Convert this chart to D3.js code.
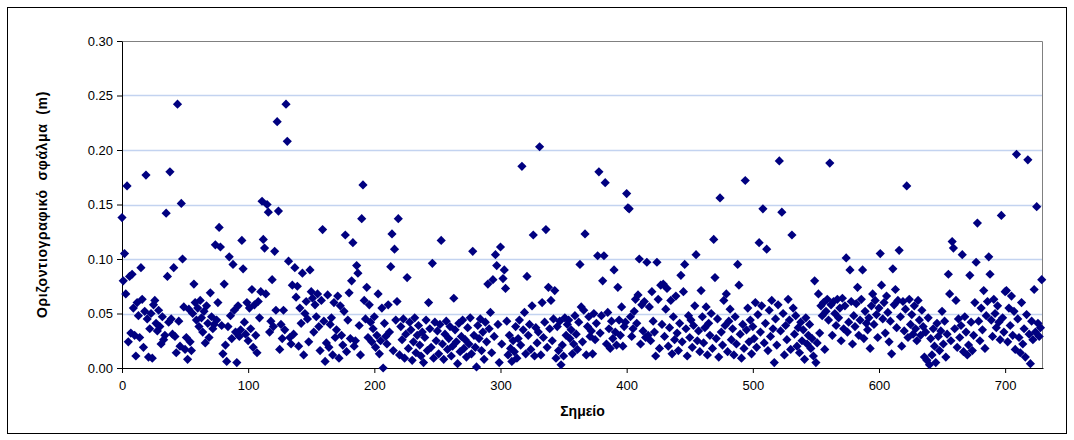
<!DOCTYPE html>
<html>
<head>
<meta charset="utf-8">
<script src="https://cdnjs.cloudflare.com/ajax/libs/d3/7.8.5/d3.min.js"></script>
<style>
  body { margin: 0; background: #fff; }
  text { font-family: Arial, "Liberation Sans", sans-serif; }
</style>
</head>
<body>
<div id="viz"></div>
<script>
// horizontal error (m) per point, index = point number
const errors = [
  0.138, 0.080, 0.105, 0.068, 0.167, 0.024, 0.084, 0.032, 0.086, 0.055,
  0.030, 0.011, 0.060, 0.048, 0.028, 0.092, 0.063, 0.019, 0.052, 0.177,
  0.045, 0.010, 0.036, 0.050, 0.009, 0.058, 0.062, 0.041, 0.034, 0.053,
  0.038, 0.022, 0.047, 0.026, 0.030, 0.142, 0.084, 0.042, 0.180, 0.045,
  0.031, 0.092, 0.029, 0.014, 0.242, 0.043, 0.020, 0.151, 0.100, 0.056,
  0.017, 0.028, 0.008, 0.054, 0.024, 0.016, 0.050, 0.077, 0.060, 0.044,
  0.055, 0.038, 0.062, 0.046, 0.033, 0.052, 0.023, 0.057, 0.041, 0.028,
  0.069, 0.047, 0.036, 0.040, 0.113, 0.044, 0.060, 0.129, 0.111, 0.039,
  0.013, 0.077, 0.021, 0.006, 0.038, 0.102, 0.048, 0.027, 0.095, 0.053,
  0.033, 0.005, 0.057, 0.029, 0.035, 0.117, 0.091, 0.042, 0.031, 0.060,
  0.025, 0.055, 0.036, 0.072, 0.019, 0.058, 0.030, 0.014, 0.061, 0.046,
  0.070, 0.153, 0.118, 0.110, 0.068, 0.150, 0.143, 0.033, 0.043, 0.081,
  0.038, 0.107, 0.053, 0.226, 0.144, 0.017, 0.040, 0.027, 0.053, 0.035,
  0.242, 0.208, 0.098, 0.028, 0.022, 0.076, 0.031, 0.092, 0.065, 0.075,
  0.020, 0.055, 0.041, 0.087, 0.012, 0.050, 0.061, 0.045, 0.024, 0.090,
  0.070, 0.064, 0.033, 0.058, 0.047, 0.068, 0.038, 0.016, 0.062, 0.127,
  0.043, 0.006, 0.023, 0.067, 0.019, 0.040, 0.046, 0.012, 0.060, 0.028,
  0.035, 0.066, 0.009, 0.057, 0.030, 0.021, 0.052, 0.122, 0.015, 0.044,
  0.069, 0.027, 0.080, 0.115, 0.020, 0.025, 0.094, 0.087, 0.039, 0.012,
  0.137, 0.168, 0.062, 0.045, 0.074, 0.028, 0.058, 0.042, 0.024, 0.036,
  0.047, 0.019, 0.030, 0.068, 0.013, 0.025, 0.055, 0.000, 0.041, 0.029,
  0.022, 0.058, 0.033, 0.093, 0.123, 0.016, 0.109, 0.044, 0.061, 0.137,
  0.012, 0.038, 0.026, 0.045, 0.009, 0.031, 0.083, 0.018, 0.042, 0.035,
  0.007, 0.024, 0.046, 0.014, 0.030, 0.039, 0.021, 0.011, 0.033, 0.005,
  0.028, 0.044, 0.016, 0.060, 0.036, 0.019, 0.096, 0.009, 0.042, 0.025,
  0.034, 0.013, 0.040, 0.117, 0.022, 0.008, 0.031, 0.043, 0.017, 0.027,
  0.038, 0.011, 0.020, 0.064, 0.035, 0.024, 0.004, 0.041, 0.015, 0.029,
  0.044, 0.018, 0.026, 0.010, 0.037, 0.022, 0.046, 0.013, 0.107, 0.030,
  0.019, 0.001, 0.039, 0.027, 0.045, 0.016, 0.033, 0.008, 0.042, 0.024,
  0.077, 0.036, 0.051, 0.014, 0.081, 0.029, 0.104, 0.094, 0.040, 0.005,
  0.111, 0.022, 0.082, 0.090, 0.073, 0.043, 0.012, 0.030, 0.018, 0.006,
  0.025, 0.015, 0.038, 0.009, 0.027, 0.044, 0.021, 0.185, 0.035, 0.051,
  0.013, 0.084, 0.030, 0.040, 0.017, 0.057, 0.122, 0.011, 0.037, 0.023,
  0.033, 0.203, 0.012, 0.060, 0.028, 0.042, 0.127, 0.019, 0.074, 0.036,
  0.062, 0.025, 0.045, 0.071, 0.009, 0.038, 0.016, 0.043, 0.003, 0.021,
  0.011, 0.046, 0.030, 0.040, 0.044, 0.027, 0.035, 0.013, 0.022, 0.048,
  0.031, 0.017, 0.042, 0.095, 0.056, 0.024, 0.053, 0.123, 0.012, 0.038,
  0.047, 0.029, 0.034, 0.013, 0.050, 0.026, 0.041, 0.103, 0.180, 0.032,
  0.048, 0.080, 0.103, 0.170, 0.022, 0.051, 0.036, 0.018, 0.043, 0.027,
  0.090, 0.033, 0.021, 0.074, 0.044, 0.030, 0.056, 0.020, 0.038, 0.042,
  0.160, 0.147, 0.146, 0.047, 0.029, 0.036, 0.052, 0.063, 0.041, 0.067,
  0.100, 0.022, 0.058, 0.034, 0.061, 0.028, 0.097, 0.030, 0.056, 0.025,
  0.070, 0.043, 0.033, 0.011, 0.097, 0.063, 0.018, 0.076, 0.040, 0.077,
  0.029, 0.054, 0.073, 0.020, 0.037, 0.062, 0.013, 0.047, 0.026, 0.066,
  0.032, 0.016, 0.041, 0.085, 0.024, 0.070, 0.095, 0.036, 0.011, 0.048,
  0.028, 0.044, 0.019, 0.039, 0.057, 0.104, 0.025, 0.034, 0.015, 0.071,
  0.047, 0.023, 0.037, 0.056, 0.012, 0.041, 0.030, 0.050, 0.018, 0.118,
  0.083, 0.027, 0.045, 0.010, 0.156, 0.033, 0.021, 0.062, 0.039, 0.068,
  0.015, 0.043, 0.054, 0.026, 0.036, 0.012, 0.047, 0.022, 0.095, 0.076,
  0.031, 0.009, 0.040, 0.018, 0.172, 0.035, 0.055, 0.024, 0.044, 0.013,
  0.038, 0.027, 0.060, 0.019, 0.049, 0.115, 0.033, 0.057, 0.146, 0.023,
  0.041, 0.109, 0.016, 0.053, 0.029, 0.062, 0.036, 0.005, 0.045, 0.021,
  0.058, 0.190, 0.034, 0.143, 0.050, 0.012, 0.039, 0.026, 0.063, 0.044,
  0.017, 0.122, 0.055, 0.031, 0.048, 0.020, 0.037, 0.014, 0.042, 0.025,
  0.035, 0.008, 0.046, 0.022, 0.030, 0.040, 0.018, 0.027, 0.011, 0.080,
  0.005, 0.023, 0.068, 0.032, 0.057, 0.048, 0.060, 0.017, 0.052, 0.063,
  0.044, 0.188, 0.058, 0.030, 0.061, 0.050, 0.039, 0.063, 0.046, 0.055,
  0.025, 0.064, 0.036, 0.057, 0.101, 0.033, 0.042, 0.090, 0.061, 0.022,
  0.048, 0.038, 0.059, 0.074, 0.030, 0.044, 0.063, 0.090, 0.027, 0.052,
  0.041, 0.035, 0.046, 0.018, 0.057, 0.068, 0.040, 0.062, 0.049, 0.028,
  0.055, 0.105, 0.076, 0.045, 0.060, 0.032, 0.066, 0.051, 0.024, 0.043,
  0.013, 0.091, 0.058, 0.072, 0.037, 0.062, 0.108, 0.047, 0.020, 0.061,
  0.034, 0.054, 0.167, 0.028, 0.063, 0.040, 0.049, 0.031, 0.057, 0.036,
  0.025, 0.062, 0.044, 0.030, 0.053, 0.038, 0.010, 0.033, 0.007, 0.046,
  0.003, 0.027, 0.012, 0.036, 0.020, 0.005, 0.041, 0.029, 0.016, 0.034,
  0.052, 0.022, 0.043, 0.010, 0.031, 0.086, 0.068, 0.025, 0.116, 0.110,
  0.036, 0.062, 0.019, 0.045, 0.028, 0.039, 0.104, 0.015, 0.047, 0.033,
  0.012, 0.021, 0.085, 0.042, 0.016, 0.030, 0.060, 0.097, 0.133, 0.043,
  0.025, 0.055, 0.035, 0.071, 0.018, 0.048, 0.061, 0.102, 0.086, 0.044,
  0.029, 0.063, 0.050, 0.037, 0.057, 0.042, 0.026, 0.140, 0.046, 0.033,
  0.070, 0.071, 0.024, 0.055, 0.039, 0.066, 0.030, 0.052, 0.017, 0.196,
  0.045, 0.028, 0.014, 0.060, 0.022, 0.036, 0.010, 0.049, 0.191, 0.031,
  0.004, 0.043, 0.026, 0.072, 0.033, 0.148, 0.041, 0.029, 0.037, 0.081
];

const xTicks = [0, 100, 200, 300, 400, 500, 600, 700];
const yTicks = [0, 0.05, 0.10, 0.15, 0.20, 0.25, 0.30];
const xTitle = 'Σημείο';
const yTitle = 'Οριζοντιογραφικό  σφάλμα  (m)';

function buildChart(containerId) {
    const width = 1074;
    const height = 440;

    const margin = {
        top: 41,
        bottom: 72,
        right: 31,
        left: 122
    }

    const innerWidth = width - margin.left - margin.right;
    const innerHeight = height - margin.top - margin.bottom;

    const svg = d3.select(containerId)
                    .append('svg')
                    .attr('height', height)
                    .attr('width', width);

    // chart area frame
    svg.append('rect')
       .attr('x', 7.5)
       .attr('y', 7.5)
       .attr('width', 1059)
       .attr('height', 426)
       .attr('fill', '#fff')
       .attr('stroke', '#000')
       .attr('stroke-width', 1);

    const g = svg.append('g')
                .attr('transform', 'translate(' + margin.left + ',' + margin.top + ')');

    const x = d3.scaleLinear()
                .domain([0, 730])
                .range([0, innerWidth]);

    const y = d3.scaleLinear()
                .domain([0, 0.30])
                .range([innerHeight, 0]);

    // gridlines
    g.selectAll('.grid')
     .data(yTicks.slice(1, -1))
     .enter()
     .append('line')
     .attr('class', 'grid')
     .attr('x1', 0)
     .attr('x2', innerWidth)
     .attr('y1', d => Math.round(y(d)) + 0.5)
     .attr('y2', d => Math.round(y(d)) + 0.5)
     .attr('stroke', '#c3d3f0')
     .attr('stroke-width', 1.5);

    // plot area border (top / right)
    g.append('path')
     .attr('d', 'M0,0.5H' + (innerWidth - 0.5) + 'V' + innerHeight)
     .attr('fill', 'none')
     .attr('stroke', '#808080')
     .attr('stroke-width', 1);

    const xAxis = d3.axisBottom(x)
                    .tickValues(xTicks)
                    .tickSize(5)
                    .tickSizeOuter(0)
                    .tickFormat(d3.format('d'));
    const yAxis = d3.axisLeft(y)
                    .tickValues(yTicks)
                    .tickSize(5)
                    .tickSizeOuter(0)
                    .tickFormat(d3.format('.2f'));

    const gx = g.append('g')
     .attr('class', 'x-axis')
     .attr('transform', 'translate(0,' + innerHeight + ')')
     .call(xAxis);

    const gy = g.append('g')
     .attr('class', 'y-axis')
     .call(yAxis);

    [gx, gy].forEach(a => {
        a.selectAll('path, line').attr('stroke', '#000');
        a.selectAll('text')
         .attr('fill', '#000')
         .style('font-size', '13px')
         .style('font-family', 'Arial, "Liberation Sans", sans-serif');
    });
    gx.selectAll('text').attr('dy', '1.05em');
    gy.selectAll('text').attr('x', -9);

    g.selectAll('.pt')
     .data(errors)
     .enter()
     .append('path')
     .attr('class', 'pt')
     .attr('transform', (d, i) => 'translate(' + x(i) + ',' + y(d) + ')')
     .attr('d', 'M0,-4.6L4.6,0L0,4.6L-4.6,0Z')
     .attr('fill', '#000080')
     .attr('stroke', 'none');

    g.append('text')
     .attr('class', 'x-axis-label')
     .attr('x', innerWidth / 2)
     .attr('y', innerHeight + 48)
     .attr('text-anchor', 'middle')
     .style('font-size', '14px')
     .style('font-weight', 'bold')
     .text(xTitle);

    g.append('text')
     .attr('class', 'y-axis-label')
     .attr('transform', 'translate(-75,' + innerHeight / 2 + ') rotate(-90)')
     .attr('text-anchor', 'middle')
     .style('font-size', '14px')
     .style('font-weight', 'bold')
     .style('letter-spacing', '0.6px')
     .style('white-space', 'pre')
     .text(yTitle);
}

buildChart('#viz');
</script>
</body>
</html>
